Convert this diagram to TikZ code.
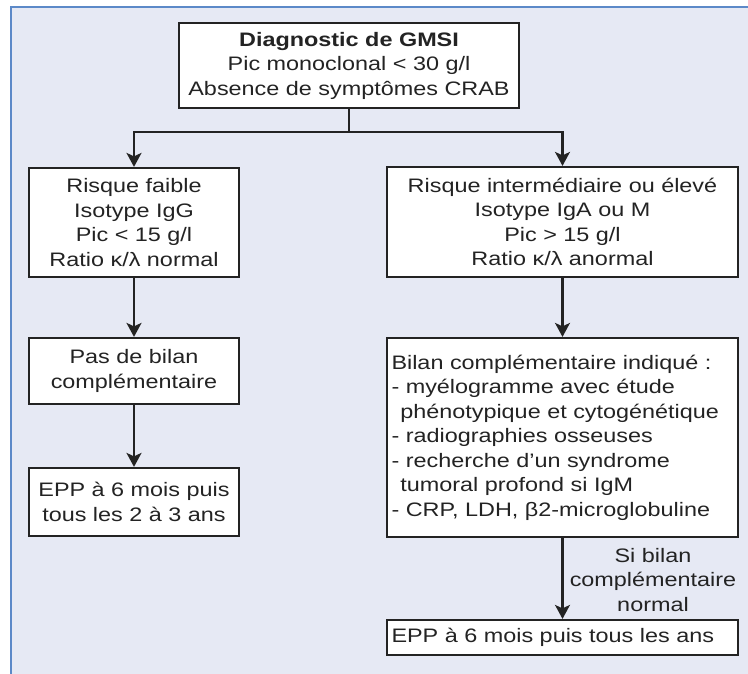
\documentclass[tikz,border=0pt]{standalone}
\usepackage{fontspec}
\setmainfont{Liberation Sans}[FakeStretch=1.2]
\usetikzlibrary{arrows.meta,positioning}
\definecolor{bgcol}{RGB}{230,233,244}
\definecolor{edgecol}{RGB}{92,137,200}
\definecolor{inkcol}{RGB}{35,35,35}
\tikzset{
  x=1pt,y=-1pt,
  txt/.style={font=\fontsize{19.5}{24.5}\selectfont, text=inkcol},
  boxc/.style={txt, draw=inkcol, line width=2.2pt, fill=white, align=center, inner sep=0pt},
  boxl/.style={txt, draw=inkcol, line width=2.2pt, fill=white, align=left, inner xsep=4.5pt, inner ysep=0pt},
  link/.style={draw=inkcol, line width=2.2pt},
  arrowlink/.style={link, -{Stealth[length=14pt,width=15pt,inset=3.5pt]}}
}
\begin{document}
\begin{tikzpicture}
\useasboundingbox (0,0) rectangle (748,674);
\fill[bgcol] (11,7) rectangle (748,674);
\draw[edgecol, line width=2.5pt] (11,674) -- (11,7) -- (748,7);

\node[boxc, minimum width=340pt, minimum height=85pt] (top) at (349,65.5)
  {\textbf{Diagnostic de GMSI}\\Pic monoclonal < 30 g/l\\Absence de symptômes CRAB};

\node[boxc, minimum width=210pt, minimum height=109pt] (l1) at (134,222.5)
  {Risque faible\\Isotype IgG\\Pic < 15 g/l\\Ratio κ/λ normal};
\node[boxc, minimum width=351pt, minimum height=110pt] (r1) at (562.5,222)
  {Risque intermédiaire ou élevé\\Isotype IgA ou M\\Pic > 15 g/l\\Ratio κ/λ anormal};

\node[boxc, minimum width=210pt, minimum height=66pt] (l2) at (134,371)
  {Pas de bilan\\complémentaire};
\node[boxc, minimum width=210pt, minimum height=68pt] (l3) at (134,502)
  {EPP à 6 mois puis\\tous les 2 à 3 ans};

\node[boxl, text width=342pt, minimum height=199pt] (r2) at (562.5,437.5)
  {Bilan complémentaire indiqué :\\
   - myélogramme avec étude\\
   \hspace*{0.45em}phénotypique et cytogénétique\\
   - radiographies osseuses\\
   - recherche d’un syndrome\\
   \hspace*{0.45em}tumoral profond si IgM\\
   - CRP, LDH, β2-microglobuline};

\node[boxl, text width=342pt, minimum height=35pt] (r3) at (562.5,637.5)
  {EPP à 6 mois puis tous les ans};

\node[txt, align=center, inner sep=0pt] (cond) at (653,580)
  {Si bilan\\complémentaire\\normal};

\coordinate (split) at ([yshift=-23pt]top.south);
\draw[link] (top.south) -- (split);
\draw[arrowlink] (split) -| (l1.north);
\draw[arrowlink] (split) -| (r1.north);
\draw[arrowlink] (l1.south) -- (l2.north);
\draw[arrowlink] (l2.south) -- (l3.north);
\draw[arrowlink] (r1.south) -- (r2.north);
\draw[arrowlink] (r2.south) -- (r3.north);
\end{tikzpicture}
\end{document}
